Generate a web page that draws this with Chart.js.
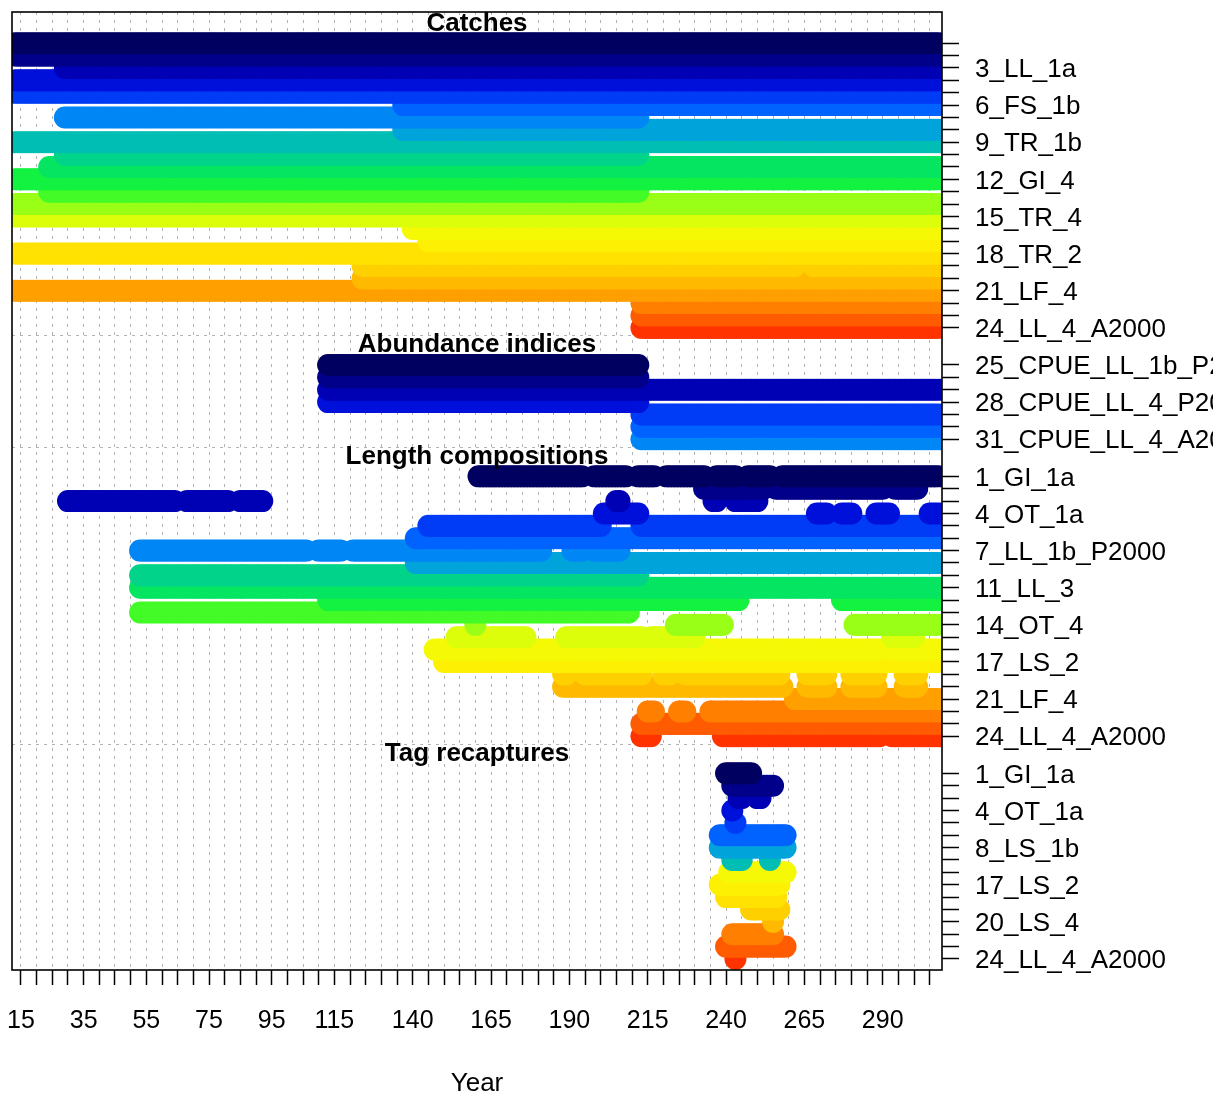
<!DOCTYPE html>
<html>
<head>
<meta charset="utf-8">
<title>Data by type and year</title>
<script src="https://cdn.jsdelivr.net/npm/chart.js@4.4.1/dist/chart.umd.min.js"></script>
<style>
  html, body { margin: 0; padding: 0; background: #fff; }
  canvas { display: block; }
</style>
</head>
<body>
<canvas id="dataChart" width="1213" height="1098"></canvas>
<script>
// one colour per fishery number; the index fleets (25-31) reuse the first ones
const fleetColors = [
  '#000061', '#00008A', '#0000B4', '#0010DB', '#003BF5', '#0063FF', '#0086F5', '#00A4DB',
  '#00BEB4', '#01D48A', '#05E561', '#13F240', '#43FB27', '#9AFF16', '#DDFE0B', '#F6F905',
  '#FDF003', '#FFE201', '#FFD000', '#FFBA00', '#FF9F00', '#FF7F00', '#FF5B00', '#FF3300'
];

const groupTitles = ['Catches', 'Abundance indices', 'Length compositions', 'Tag recaptures'];
const yearLabels = [15, 35, 55, 75, 95, 115, 140, 165, 190, 215, 240, 265, 290];

// years with data are stored as [first, last] runs per fleet

// Catches
const catchFleets = [1, 2, 3, 4, 5, 6, 7, 8, 9, 10, 11, 12, 13, 14, 15, 16, 17, 18, 19, 20, 21, 22, 23, 24];
const catchYears = [
  [[13, 308]], [[13, 308]], [[29, 308]], [[13, 308]], [[13, 308]], [[137, 308]],
  [[29, 212]], [[137, 308]], [[13, 308]], [[29, 212]], [[24, 308]], [[13, 308]],
  [[24, 212]], [[13, 308]], [[13, 308]], [[140, 308]], [[145, 308]], [[13, 308]],
  [[124, 262], [268, 308]], [[124, 308]], [[13, 308]], [[213, 308]], [[213, 308]], [[213, 308]]
];
const catchNames = {3: '3_LL_1a', 6: '6_FS_1b', 9: '9_TR_1b', 12: '12_GI_4', 15: '15_TR_4',
  18: '18_TR_2', 21: '21_LF_4', 24: '24_LL_4_A2000'};

// Abundance indices
const indexFleets = [25, 26, 27, 28, 29, 30, 31];
const indexYears = [
  [[113, 212]], [[113, 212]], [[113, 308]], [[113, 212]], [[213, 308]], [[213, 308]], [[213, 308]]
];
const indexNames = {25: '25_CPUE_LL_1b_P2000', 28: '28_CPUE_LL_4_P2000', 31: '31_CPUE_LL_4_A2000'};

// Length compositions
const lenFleets = [1, 2, 3, 4, 5, 6, 7, 8, 10, 11, 12, 13, 14, 15, 16, 17, 19, 20, 21, 22, 23, 24];
const lenYears = [
  [[161, 194], [198, 208], [212, 217], [221, 233], [237, 243], [247, 254], [258, 308]],
  [[233, 252], [256, 290], [294, 301]],
  [[30, 64], [68, 81], [85, 92], [205, 206], [236, 237], [243, 250]],
  [[201, 212], [269, 272], [277, 280], [288, 292], [305, 308]],
  [[145, 200], [213, 308]],
  [[141, 308]],
  [[53, 106], [110, 117], [121, 181], [191, 194], [198, 206]],
  [[141, 308]],
  [[53, 212]],
  [[53, 308]],
  [[113, 244], [277, 308]],
  [[53, 209]],
  [[160, 160], [224, 239], [281, 308]],
  [[154, 157], [160, 176], [189, 213], [216, 230], [293, 300]],
  [[147, 289], [293, 308]],
  [[150, 308]],
  [[188, 189], [195, 213], [220, 222], [227, 257], [266, 272], [280, 288], [297, 301]],
  [[188, 258], [266, 272], [280, 288], [297, 301]],
  [[262, 308]],
  [[215, 217], [225, 227], [235, 308]],
  [[213, 308]],
  [[213, 216], [239, 289], [293, 308]]
];
const lenNames = {1: '1_GI_1a', 4: '4_OT_1a', 7: '7_LL_1b_P2000', 11: '11_LL_3', 14: '14_OT_4',
  17: '17_LS_2', 21: '21_LF_4', 24: '24_LL_4_A2000'};

// Tag recaptures
const tagFleets = [1, 2, 3, 4, 5, 6, 8, 9, 16, 17, 18, 19, 20, 22, 23, 24];
const tagYears = [
  [[240, 248]], [[242, 255]], [[244, 245], [250, 251]], [[242, 242]], [[243, 243]],
  [[238, 259]], [[238, 259]], [[242, 245], [254, 254]], [[241, 259]], [[238, 257]],
  [[240, 256]], [[248, 257]], [[255, 255]], [[242, 255]], [[240, 259]], [[243, 243]]
];
const tagNames = {1: '1_GI_1a', 4: '4_OT_1a', 8: '8_LS_1b', 17: '17_LS_2', 20: '20_LS_4', 24: '24_LL_4_A2000'};

const groups = [
  {fleets: catchFleets, years: catchYears, names: catchNames},
  {fleets: indexFleets, years: indexYears, names: indexNames},
  {fleets: lenFleets, years: lenYears, names: lenNames},
  {fleets: tagFleets, years: tagYears, names: tagNames}
];

// one row per fleet, two empty rows between data types
const datasets = [];
const rowTicks = [];
const rowLabel = {};
const titleRows = [];
const sepRows = [];
let row = 0;
groups.forEach((g, gi) => {
  if (gi > 0) {
    row += 2;
    sepRows.push(row - 2.4);
  }
  titleRows.push(row - 1.6);
  g.fleets.forEach((fleet, i) => {
    const pts = [];
    g.years[i].forEach(([first, last]) => {
      for (let yr = first; yr <= last; yr++) pts.push({x: yr, y: row});
    });
    datasets.push({
      data: pts,
      backgroundColor: fleetColors[(fleet - 1) % 24],
      borderWidth: 0,
      pointRadius: 11,
      pointHoverRadius: 11,
      showLine: false,
      clip: 0
    });
    rowTicks.push(row);
    if (g.names[fleet]) rowLabel[row] = g.names[fleet];
    row++;
  });
});

const xTicks = [];
for (let v = 15; v <= 305; v += 5) xTicks.push(v);

const fontFamily = "'Liberation Sans', Arial, sans-serif";
Chart.defaults.font.family = fontFamily;
Chart.defaults.color = '#000';

// keep the plot box where it is: no extra room for edge labels
function noEdgePadding(s) {
  s.paddingTop = 0;
  s.paddingBottom = 0;
  s.paddingLeft = 0;
  s.paddingRight = 0;
}

const overlay = {
  id: 'overlay',
  beforeDatasetsDraw(chart) {
    const {ctx, chartArea: a, scales: {y}} = chart;
    ctx.save();
    ctx.strokeStyle = '#b4b4b4';
    ctx.lineWidth = 1;
    ctx.setLineDash([3, 5]);
    sepRows.forEach(r => {
      const py = Math.round(y.getPixelForValue(r)) + 0.5;
      ctx.beginPath();
      ctx.moveTo(a.left, py);
      ctx.lineTo(a.right, py);
      ctx.stroke();
    });
    ctx.restore();
  },
  afterDatasetsDraw(chart) {
    const {ctx, chartArea: a, scales: {y}} = chart;
    ctx.save();
    ctx.fillStyle = '#000';
    ctx.font = 'bold 26px ' + fontFamily;
    ctx.textAlign = 'center';
    ctx.textBaseline = 'middle';
    groupTitles.forEach((t, i) => {
      ctx.fillText(t, (a.left + a.right) / 2, y.getPixelForValue(titleRows[i]));
    });
    ctx.strokeStyle = '#000';
    ctx.lineWidth = 1.6;
    ctx.strokeRect(a.left, a.top, a.right - a.left, a.bottom - a.top);
    ctx.restore();
  }
};

new Chart(document.getElementById('dataChart').getContext('2d'), {
  type: 'scatter',
  data: {datasets: datasets},
  options: {
    responsive: false,
    animation: false,
    events: [],
    layout: {padding: {left: 12, top: 12, right: 0, bottom: 0}},
    plugins: {legend: {display: false}, tooltip: {enabled: false}},
    scales: {
      x: {
        type: 'linear',
        min: 12.13,
        max: 308.92,
        afterBuildTicks: s => { s.ticks = xTicks.map(v => ({value: v})); },
        afterFit: s => { s.height = 128; noEdgePadding(s); },
        grid: {color: '#b4b4b4', lineWidth: 1, tickColor: '#000', tickWidth: 1.5, tickLength: 15},
        border: {display: false, dash: [3, 5]},
        ticks: {
          autoSkip: false,
          maxRotation: 0,
          padding: 21,
          font: {size: 25},
          callback: v => yearLabels.includes(v) ? String(v) : ''
        },
        title: {display: true, text: 'Year', font: {size: 26}, padding: {top: 0, bottom: -1}}
      },
      y: {
        type: 'linear',
        position: 'right',
        reverse: true,
        min: -2.525,
        max: 74.89,
        afterBuildTicks: s => { s.ticks = rowTicks.map(v => ({value: v})); },
        afterFit: s => { s.width = 271; noEdgePadding(s); },
        grid: {drawOnChartArea: false, tickColor: '#000', tickWidth: 1.5, tickLength: 17},
        border: {display: false},
        ticks: {
          autoSkip: false,
          padding: 16,
          labelOffset: 2,
          font: {size: 26},
          callback: v => rowLabel[v] || ''
        }
      }
    }
  },
  plugins: [overlay]
});
</script>
</body>
</html>
